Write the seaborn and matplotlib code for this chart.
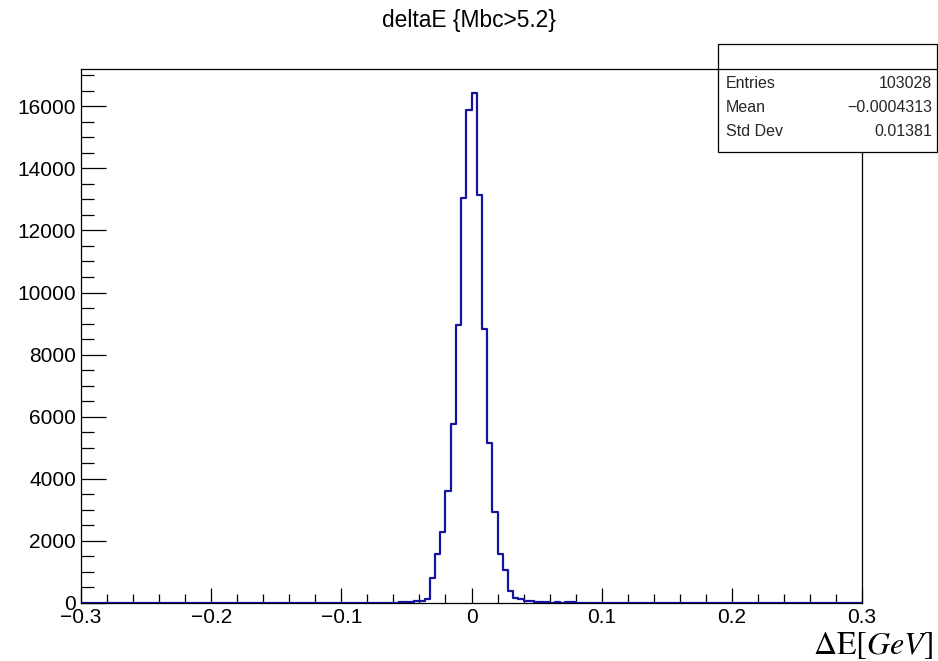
import numpy as np
import pandas as pd
import matplotlib
matplotlib.use("Agg")
import matplotlib.pyplot as plt
from matplotlib.patches import Rectangle
from matplotlib.lines import Line2D
from matplotlib.ticker import MultipleLocator
import seaborn as sns

# ---- data ----
bin_low_edges = [-0.056, -0.052, -0.048, -0.044, -0.040, -0.036, -0.032, -0.028,
                 -0.024, -0.020, -0.016, -0.012, -0.008, -0.004, 0.000, 0.004,
                 0.008, 0.012, 0.016, 0.020, 0.024, 0.028, 0.032, 0.036,
                 0.040, 0.044, 0.048, 0.052, 0.056, 0.060, 0.064, 0.068,
                 0.072, 0.076]
bin_counts = [35, 40, 45, 55, 70, 130, 790, 1580,
              2300, 3610, 5760, 8970, 13050, 15880, 16420, 13140,
              8810, 5150, 2940, 1580, 1070, 400, 170, 120,
              60, 50, 45, 40, 35, 0, 30, 0,
              35, 30]
bin_width = 0.004
x_range = (-0.3, 0.3)
title = "deltaE {Mbc>5.2}"
stats_labels = ["Entries", "Mean", "Std Dev"]
stats_values = ["103028", "\u22120.0004313", "0.01381"]
xtick_vals = [-0.3, -0.2, -0.1, 0, 0.1, 0.2, 0.3]
xtick_labels = ["\u22120.3", "\u22120.2", "\u22120.1", "0", "0.1", "0.2", "0.3"]
ytick_vals = [0, 2000, 4000, 6000, 8000, 10000, 12000, 14000, 16000]

df = pd.DataFrame({"center": np.array(bin_low_edges) + bin_width / 2,
                   "count": bin_counts})

sns.set_style("white")
plt.rcParams["font.family"] = ["Liberation Sans", "DejaVu Sans"]
plt.rcParams["mathtext.fontset"] = "stix"

W, H = 938, 661
fig = plt.figure(figsize=(W / 100, H / 100), dpi=100)
ax_l, ax_r, ax_t, ax_b = 81, 862, 69, 603
ax = fig.add_axes([ax_l / W, 1 - ax_b / H, (ax_r - ax_l) / W, (ax_b - ax_t) / H])

sns.histplot(data=df, x="center", weights="count", binwidth=bin_width,
             binrange=x_range, element="step", fill=False, color="#1414a0",
             linewidth=1.6, ax=ax)

ax.set_xlim(*x_range)
ax.set_ylim(0, 17200)
ax.set_xlabel("")
ax.set_ylabel("")
ax.set_xticks(xtick_vals)
ax.set_xticklabels(xtick_labels)
ax.set_yticks(ytick_vals)
ax.set_yticklabels([str(v) for v in ytick_vals])
ax.xaxis.set_minor_locator(MultipleLocator(0.02))
ax.yaxis.set_minor_locator(MultipleLocator(500))
for s in ax.spines.values():
    s.set_visible(True)
    s.set_color("black")
    s.set_linewidth(0.9)
ax.tick_params(axis="x", which="major", direction="in", length=11, width=0.9,
               labelsize=15, pad=3.5, color="black", labelcolor="black", bottom=True, top=False)
ax.tick_params(axis="x", which="minor", direction="in", length=6.5, width=0.9,
               bottom=True, top=False, color="black")
ax.tick_params(axis="y", which="major", direction="in", length=18, width=0.9,
               labelsize=15, pad=3.5, color="black", labelcolor="black", left=True, right=False)
ax.tick_params(axis="y", which="minor", direction="in", length=9.4, width=0.9,
               left=True, right=False, color="black")
ax.grid(False)

# title
fig.text(0.5, 1 - 20 / H, title, ha="center", va="center", fontsize=16.4, color="black")

# stats box
bx0, bx1, by0, by1, bdiv = 718, 937, 44, 152, 69
fig.add_artist(Rectangle((bx0 / W, 1 - by1 / H), (bx1 - bx0) / W, (by1 - by0) / H,
                         transform=fig.transFigure, facecolor="white",
                         edgecolor="black", linewidth=0.9, zorder=5))
fig.add_artist(Line2D([bx0 / W, bx1 / W], [1 - bdiv / H, 1 - bdiv / H],
                      transform=fig.transFigure, color="black", linewidth=0.9, zorder=6))
rows_y = [83, 107, 131]
for lab, val, yy in zip(stats_labels, stats_values, rows_y):
    fig.text(726 / W, 1 - yy / H, lab, ha="left", va="center", fontsize=11.5, zorder=7)
    fig.text(932 / W, 1 - yy / H, val, ha="right", va="center", fontsize=11.5, zorder=7)

# x axis label
fig.text(933 / W, 1 - 646 / H, r"$\Delta\mathrm{E}[GeV]$", ha="right", va="center",
         fontsize=23, color="black")

fig.savefig("out.png", dpi=100)
